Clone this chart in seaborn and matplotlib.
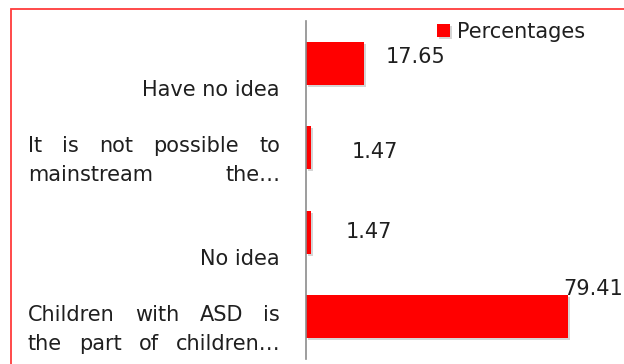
import matplotlib
matplotlib.use("Agg")
import matplotlib.pyplot as plt
import matplotlib.patheffects as pe
from matplotlib.patches import Rectangle
from matplotlib.transforms import blended_transform_factory
import seaborn as sns
import pandas as pd

# Survey answers and their shares (%)
categories = [
    "Have no idea",
    "It is not possible to\nmainstream the…",
    "No idea",
    "Children with ASD is\nthe part of children…",
]
percentages = [17.65, 1.47, 1.47, 79.41]
series_name = "Percentages"

# Offsets (pixels) of each value label from the end of its bar
label_offsets = [(21, 6), (41, -4), (35, 0), (-5, 28)]

sns.set_theme(style="white")
plt.rcParams["font.family"] = ["DejaVu Sans"]

W, H, DPI = 624, 364, 100
fig = plt.figure(figsize=(W / DPI, H / DPI), dpi=DPI)
fig.patch.set_facecolor("white")

# Axes placed in pixel units; the value axis runs past the right edge
left_px, top_px, bottom_px = 306, 21, 359
px_per_unit = 3.30
xmax = 100
ax = fig.add_axes([left_px / W, 1 - bottom_px / H,
                   xmax * px_per_unit / W, (bottom_px - top_px) / H])

df = pd.DataFrame({"category": categories, "value": percentages})
sns.barplot(data=df, y="category", x="value", orient="h", color="#ff0000",
            saturation=1, width=0.51, ax=ax, label=series_name)
ax.set_xlim(0, xmax)
ax.set_ylim(3.5, -0.5)

for bar in ax.patches:
    bar.set_edgecolor("none")
    bar.set_path_effects([
        pe.SimplePatchShadow(offset=(1.5, -1.5), shadow_rgbFace="#888888", alpha=0.35),
        pe.Normal(),
    ])

for spine in ["top", "right", "bottom"]:
    ax.spines[spine].set_visible(False)
ax.spines["left"].set_color("#8c8c8c")
ax.spines["left"].set_linewidth(1.2)
ax.set_xticks([])
ax.set_yticks([])
ax.set_xlabel("")
ax.set_ylabel("")

text_color = "#1f1f1f"
fsize = 15

# Value labels
for i, (v, (dx, dy)) in enumerate(zip(percentages, label_offsets)):
    ax.annotate(f"{v:.2f}", xy=(v, i), xytext=(dx, dy), textcoords="offset pixels",
                ha="left", va="center", fontsize=fsize, color=text_color)

# Category labels: justified lines between two pixel columns
fig.canvas.draw()
renderer = fig.canvas.get_renderer()
trans = blended_transform_factory(fig.transFigure, ax.transData)
x_left, x_right = 28 / W, 280 / W
line_step = 0.345
base_off = 0.39

for i, cat in enumerate(categories):
    lines = cat.split("\n")
    n = len(lines)
    for k, line in enumerate(lines):
        y = i + base_off - (n - 1 - k) * line_step
        words = line.split(" ")
        if n == 1:
            ax.text(x_right, y, line, transform=trans, ha="right", va="baseline",
                    fontsize=fsize, color=text_color)
            continue
        objs = [ax.text(0, y, w, transform=trans, ha="left", va="baseline",
                        fontsize=fsize, color=text_color) for w in words]
        widths = [o.get_window_extent(renderer).width / W for o in objs]
        gap = (x_right - x_left - sum(widths)) / (len(words) - 1)
        x = x_left
        for o, w in zip(objs, widths):
            o.set_x(x)
            x += w + gap

# Legend
ax.legend(loc="upper left", bbox_to_anchor=(437 / W, 1 - 22 / H),
          bbox_transform=fig.transFigure, frameon=False, fontsize=fsize,
          handlelength=0.6, handleheight=0.6, handletextpad=0.35,
          borderpad=0, borderaxespad=0, labelcolor=text_color)

# Outer chart border (red), running off the right and bottom edges
fig.add_artist(Rectangle((11 / W, -0.2), 2.0, 1.2 - 9 / H, transform=fig.transFigure,
                         fill=False, edgecolor="#ff3b3b", linewidth=1.3, clip_on=False))

fig.savefig("out.png", dpi=DPI, facecolor="white")
